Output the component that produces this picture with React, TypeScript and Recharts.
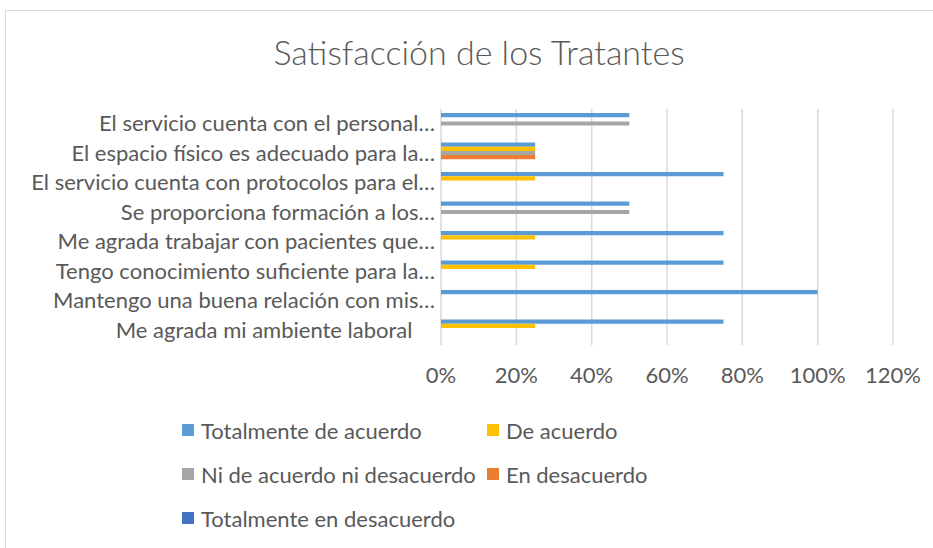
import React from "react";
import { BarChart, Bar, XAxis, YAxis, CartesianGrid, Legend } from "recharts";

// ── Data ─────────────────────────────────────────────────────────────
const categories = [
  "El servicio cuenta con el personal…",
  "El espacio físico es adecuado para la…",
  "El servicio cuenta con protocolos para el…",
  "Se proporciona formación a los…",
  "Me agrada trabajar con pacientes que…",
  "Tengo conocimiento suficiente para la…",
  "Mantengo una buena relación con mis…",
  "Me agrada mi ambiente laboral\u00A0\u00A0\u00A0\u00A0",
];

const totalmenteDeAcuerdo = [0.5, 0.25, 0.75, 0.5, 0.75, 0.75, 1, 0.75];
const deAcuerdo = [0, 0.25, 0.25, 0, 0.25, 0.25, 0, 0.25];
const niDeAcuerdoNiDesacuerdo = [0.5, 0.25, 0, 0.5, 0, 0, 0, 0];
const enDesacuerdo = [0, 0.25, 0, 0, 0, 0, 0, 0];
const totalmenteEnDesacuerdo = [0, 0, 0, 0, 0, 0, 0, 0];

const xTicks = [0, 0.2, 0.4, 0.6, 0.8, 1, 1.2];

const series = [
  { key: "tda", name: "Totalmente de acuerdo", color: "#5B9BD5", values: totalmenteDeAcuerdo },
  { key: "da", name: "De acuerdo", color: "#FFC000", values: deAcuerdo },
  { key: "ni", name: "Ni de acuerdo ni desacuerdo", color: "#A5A5A5", values: niDeAcuerdoNiDesacuerdo },
  { key: "ed", name: "En desacuerdo", color: "#ED7D31", values: enDesacuerdo },
  { key: "ted", name: "Totalmente en desacuerdo", color: "#4472C4", values: totalmenteEnDesacuerdo },
];

const chartData = categories.map((name, i) => {
  const row: Record<string, string | number> = { name };
  for (const s of series) row[s.key] = s.values[i];
  return row;
});

const TEXT = "#595959";
const FONT = "Lato, 'Open Sans', sans-serif";
const LABEL_SIZE = 22;

function CategoryTick({ x, y, payload }: any) {
  return (
    <text x={x} y={y} dy="0.35em" textAnchor="end" fill={TEXT} fontSize={LABEL_SIZE} style={{ whiteSpace: "pre" }}>
      {payload.value}
    </text>
  );
}

// legend keeps series order (Recharts 3 sorts its payload by name)
function LegendGrid() {
  return (
    <div style={{ display: "grid", gridTemplateColumns: "305px auto", rowGap: 18 }}>
      {series.map((s) => (
        <div key={s.key} style={{ display: "flex", alignItems: "center", height: 26 }}>
          <span style={{ width: 12, height: 12, background: s.color, marginRight: 7 }} />
          <span style={{ fontSize: LABEL_SIZE, color: TEXT, whiteSpace: "nowrap" }}>{s.name}</span>
        </div>
      ))}
    </div>
  );
}

export default function App() {
  return (
    <div style={{ position: "absolute", left: 0, top: 0, width: 933, height: 548, overflow: "hidden", background: "#fff", fontFamily: FONT }}>
      <div style={{ position: "absolute", left: 5, top: 10, width: 950, height: 560, border: "1px solid #d9d9d9", boxSizing: "border-box" }} />
      <div
        style={{
          position: "absolute",
          left: 5,
          top: 31,
          width: 948,
          textAlign: "center",
          fontSize: 34,
          fontWeight: 300,
          color: TEXT,
        }}
      >
        Satisfacción de los Tratantes
      </div>
      <div style={{ position: "absolute", left: 0, top: 0 }}>
        <BarChart
          width={933}
          height={548}
          data={chartData}
          layout="vertical"
          margin={{ top: 109, right: 40, left: 0, bottom: 173 }}
          barSize={4.2}
          barGap={0}
        >
          <CartesianGrid horizontal={false} stroke="#d9d9d9" strokeWidth={1.5} />
          <XAxis
            type="number"
            domain={[0, 1.2]}
            ticks={xTicks}
            tickFormatter={(v: number) => `${Math.round(v * 100)}%`}
            axisLine={false}
            tickLine={false}
            tickMargin={16}
            height={30}
            tick={{ fill: TEXT, fontSize: LABEL_SIZE }}
          />
          <YAxis
            type="category"
            dataKey="name"
            width={441}
            axisLine={false}
            tickLine={false}
            tickMargin={0}
            interval={0}
            tick={<CategoryTick />}
          />
          <Legend
            layout="horizontal"
            verticalAlign="middle"
            align="center"
            wrapperStyle={{ top: 417, left: 182, width: 680 }}
            content={<LegendGrid />}
          />
          {series.map((s) => (
            <Bar key={s.key} dataKey={s.key} name={s.name} fill={s.color} isAnimationActive={false} />
          ))}
        </BarChart>
      </div>
    </div>
  );
}
